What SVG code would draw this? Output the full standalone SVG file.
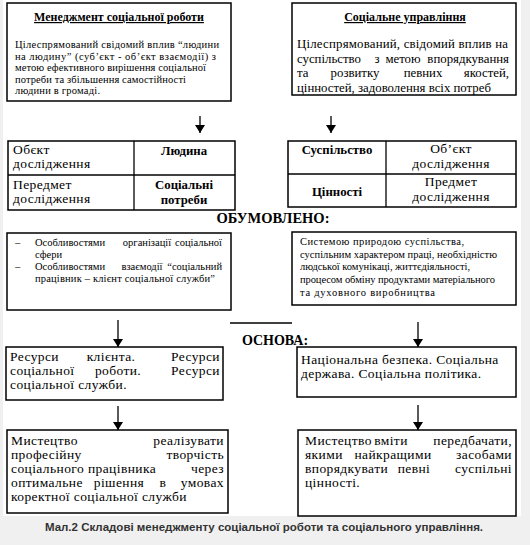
<svg xmlns="http://www.w3.org/2000/svg" width="530" height="545" viewBox="0 0 530 545">
<defs>
<style>
.box{fill:#fff;stroke:#000;stroke-width:1.5}
.ln{stroke:#000;stroke-width:1.3;fill:none}
.t{font-family:"Liberation Serif","Times New Roman",serif;fill:#000}
.s10{font-size:10.5px}
.s13{font-size:12.8px}
.s14{font-size:13.5px;letter-spacing:0.4px}
.b{font-weight:bold}
.m{text-anchor:middle}
.e{text-anchor:end}
.cap{font-family:"Liberation Sans",Arial,sans-serif;font-size:11.5px;font-weight:bold;fill:#333;text-anchor:middle}
</style>
<marker id="ah" viewBox="0 0 8 10" refX="8" refY="5" markerWidth="8" markerHeight="10" orient="auto" markerUnits="userSpaceOnUse">
<path d="M0,0 L8,5 L0,10 Z" fill="#000"/>
</marker>
</defs>
<rect width="530" height="545" fill="#fff"/>
<rect x="0" y="0" width="3" height="545" fill="#f0f0f0"/>
<rect x="521" y="0" width="9" height="545" fill="#f0f0f0"/>
<rect x="0" y="516" width="530" height="29" fill="#f0f0f0"/>

<g id="connectors">
<line class="ln" x1="200" y1="116" x2="200" y2="133" marker-end="url(#ah)"/>
<line class="ln" x1="331" y1="116" x2="331" y2="133" marker-end="url(#ah)"/>
<line class="ln" x1="118" y1="320" x2="118" y2="347" marker-end="url(#ah)"/>
<line class="ln" x1="418" y1="322" x2="418" y2="347" marker-end="url(#ah)"/>
<line class="ln" x1="118" y1="406" x2="118" y2="430" marker-end="url(#ah)"/>
<line class="ln" x1="418" y1="405" x2="418" y2="430" marker-end="url(#ah)"/>
<line class="ln" x1="230" y1="323" x2="292" y2="323"/>
</g>

<g id="n-mgmt">
<rect class="box" x="7" y="3" width="224" height="98"/>
<text class="t b m" x="119" y="21" font-size="12" text-decoration="underline">Менеджмент соціальної роботи</text>
<text class="t s10" x="15" y="48" textLength="204">Цілеспрямований свідомий вплив “людини</text>
<text class="t s10" x="15" y="59.5" textLength="201">на людину” (суб’єкт - об’єкт взаємодії) з</text>
<text class="t s10" x="15" y="71" textLength="191">метою ефективного вирішення соціальної</text>
<text class="t s10" x="15" y="82.5" textLength="171">потреби та збільшення самостійності</text>
<text class="t s10" x="15" y="94" textLength="85">людини в громаді.</text>
</g>

<g id="n-social">
<rect class="box" x="292" y="3" width="224" height="92"/>
<text class="t b m" x="405" y="21" font-size="12" text-decoration="underline">Соціальне управління</text>
<text class="t s13" x="297" y="48" textLength="211">Цілеспрямований, свідомий вплив на</text>
<text class="t s13" x="297" y="62.5">суспільство</text>
<text class="t s13 m" x="377" y="62.5">з</text>
<text class="t s13 m" x="403" y="62.5">метою</text>
<text class="t s13 e" x="509" y="62.5">впорядкування</text>
<text class="t s13" x="297" y="77">та</text>
<text class="t s13 m" x="355" y="77">розвитку</text>
<text class="t s13 m" x="423" y="77">певних</text>
<text class="t s13 e" x="509" y="77">якостей,</text>
<text class="t s13" x="297" y="91.5">цінностей, задоволення всіх потреб</text>
</g>

<g id="n-table-left">
<rect class="box" x="8" y="141" width="227" height="69"/>
<line class="ln" x1="134" y1="141" x2="134" y2="210"/>
<line class="ln" x1="8" y1="175" x2="235" y2="175"/>
<text class="t s14" x="13" y="154">Обєкт</text>
<text class="t s14" x="13" y="168">дослідження</text>
<text class="t s14" x="13" y="189">Передмет</text>
<text class="t s14" x="13" y="203">дослідження</text>
<text class="t s13 b m" x="184" y="155">Людина</text>
<text class="t s13 b m" x="184" y="189">Соціальні</text>
<text class="t s13 b m" x="184" y="204">потреби</text>
</g>

<g id="n-table-right">
<rect class="box" x="288" y="141" width="228" height="66"/>
<line class="ln" x1="386" y1="141" x2="386" y2="207"/>
<line class="ln" x1="288" y1="174" x2="516" y2="174"/>
<text class="t s13 b m" x="337" y="154">Суспільство</text>
<text class="t s13 b m" x="337" y="196">Цінності</text>
<text class="t s14 m" x="451" y="153">Об’єкт</text>
<text class="t s14 m" x="451" y="168">дослідження</text>
<text class="t s14 m" x="451" y="186">Предмет</text>
<text class="t s14 m" x="451" y="201">дослідження</text>
</g>

<g id="n-obumovleno">
<text class="t b m" x="273" y="223" font-size="14.5">ОБУМОВЛЕНО:</text>
</g>

<g id="n-left-features">
<rect class="box" x="7" y="233" width="224" height="77"/>
<text class="t s10" x="15" y="246">–</text>
<text class="t s10" x="15" y="270">–</text>
<text class="t s10" x="35" y="246">Особливостями</text>
<text class="t s10 m" x="147" y="246">організації</text>
<text class="t s10 e" x="222" y="246">соціальної</text>
<text class="t s10" x="35" y="257.5">сфери</text>
<text class="t s10" x="35" y="270">Особливостями</text>
<text class="t s10 m" x="142" y="270">взаємодії</text>
<text class="t s10 e" x="222" y="270">“соціальний</text>
<text class="t s10" x="35" y="281.5" textLength="180">працівник – клієнт соціальної служби”</text>
</g>

<g id="n-right-features">
<rect class="box" x="292" y="232" width="224" height="73"/>
<text class="t s10" x="300" y="245" textLength="164">Системою природою суспільства,</text>
<text class="t s10" x="300" y="257.5" textLength="197">суспільним характером праці, необхідністю</text>
<text class="t s10" x="300" y="270" textLength="170">людської комунікаці, життєдіяльності,</text>
<text class="t s10" x="300" y="282.5" textLength="195">процесом обміну продуктами матеріального</text>
<text class="t s10" x="300" y="296" textLength="135">та духовного виробництва</text>
</g>

<g id="n-osnova">
<text class="t b m" x="275" y="345" font-size="14">ОСНОВА:</text>
</g>

<g id="n-resources">
<rect class="box" x="6" y="347" width="217" height="53"/>
<text class="t s14" x="10" y="361">Ресурси</text>
<text class="t s14 m" x="111" y="361">клієнта.</text>
<text class="t s14 e" x="220" y="361">Ресурси</text>
<text class="t s14" x="10" y="375">соціальної</text>
<text class="t s14 m" x="118" y="375">роботи.</text>
<text class="t s14 e" x="220" y="375">Ресурси</text>
<text class="t s14" x="10" y="389">соціальної служби.</text>
</g>

<g id="n-national">
<rect class="box" x="297" y="347" width="219" height="50"/>
<text class="t s14" x="301" y="364">Національна безпека. Соціальна</text>
<text class="t s14" x="301" y="378">держава. Соціальна політика.</text>
</g>

<g id="n-art-left">
<rect class="box" x="7" y="430" width="221" height="83"/>
<text class="t s14" x="11" y="445">Мистецтво</text>
<text class="t s14 e" x="224" y="445">реалізувати</text>
<text class="t s14" x="11" y="459">професійну</text>
<text class="t s14 e" x="224" y="459">творчість</text>
<text class="t s14" x="11" y="473">соціального</text>
<text class="t s14 m" x="122" y="473">працівника</text>
<text class="t s14 e" x="224" y="473">через</text>
<text class="t s14" x="11" y="487">оптимальне</text>
<text class="t s14 m" x="119" y="487">рішення</text>
<text class="t s14 m" x="163" y="487">в</text>
<text class="t s14 e" x="224" y="487">умовах</text>
<text class="t s14" x="11" y="501">коректної соціальної служби</text>
</g>

<g id="n-art-right">
<rect class="box" x="298" y="430" width="218" height="86"/>
<text class="t s14" x="305" y="445">Мистецтво</text>
<text class="t s14 m" x="391" y="445">вміти</text>
<text class="t s14 e" x="512" y="445">передбачати,</text>
<text class="t s14" x="305" y="459">якими</text>
<text class="t s14 m" x="393" y="459">найкращими</text>
<text class="t s14 e" x="512" y="459">засобами</text>
<text class="t s14" x="305" y="473">впорядкувати</text>
<text class="t s14 m" x="414" y="473">певні</text>
<text class="t s14 e" x="512" y="473">суспільні</text>
<text class="t s14" x="305" y="487">цінності.</text>
</g>

<g id="caption">
<text class="cap" x="264" y="531">Мал.2 Складові менеджменту соціальної роботи та соціального управління.</text>
</g>
</svg>
